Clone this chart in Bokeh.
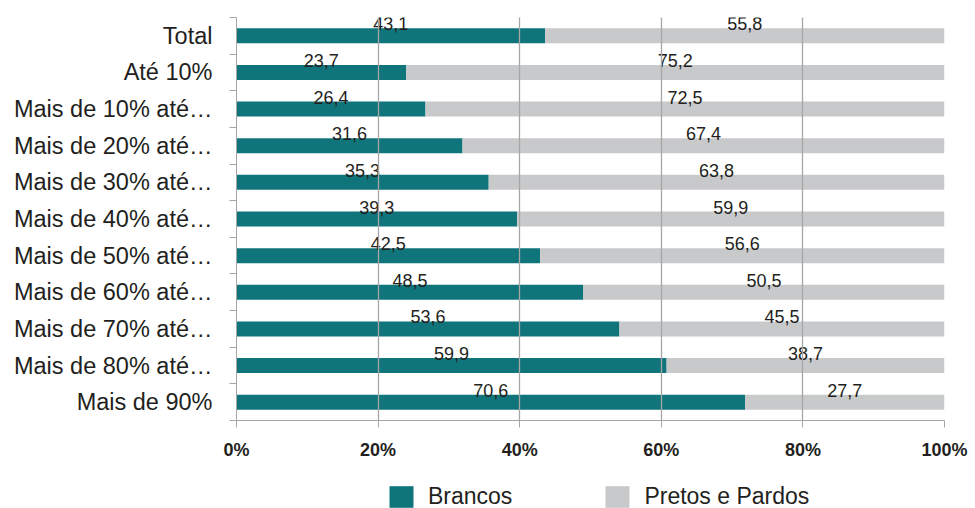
from bokeh.plotting import figure
from bokeh.layouts import column
from bokeh.models import (ColumnDataSource, FixedTicker, Legend, LegendItem, LinearAxis, Grid)
from bokeh.core.properties import value
from bokeh.embed import file_html
from bokeh.resources import INLINE

categories = ["Total", "Até 10%", "Mais de 10% até…", "Mais de 20% até…", "Mais de 30% até…",
              "Mais de 40% até…", "Mais de 50% até…", "Mais de 60% até…", "Mais de 70% até…",
              "Mais de 80% até…", "Mais de 90%"]
brancos = [43.1, 23.7, 26.4, 31.6, 35.3, 39.3, 42.5, 48.5, 53.6, 59.9, 70.6]
pretos = [55.8, 75.2, 72.5, 67.4, 63.8, 59.9, 56.6, 50.5, 45.5, 38.7, 27.7]
x_ticks = [0, 20, 40, 60, 80, 100]
x_tick_labels = ["0%", "20%", "40%", "60%", "80%", "100%"]
series_names = ["Brancos", "Pretos e Pardos"]

TEAL = "#10757a"
GRAY = "#c8c9cb"
TXT = "#231f20"
AXC = "#a6a6a6"
FONT = "Liberation Sans"
BAR_H = 0.41

n = len(categories)
ypos = [n - i - 0.5 for i in range(n)]
tot = [b + p for b, p in zip(brancos, pretos)]
b_pct = [b / t * 100 for b, t in zip(brancos, tot)]

src = ColumnDataSource(dict(
    y=ypos, b_end=b_pct, p_start=b_pct, p_end=[100.0] * n,
    b_mid=[v / 2 for v in b_pct], p_mid=[(v + 100) / 2 for v in b_pct],
    b_lab=[f"{v:.1f}".replace(".", ",") for v in brancos],
    p_lab=[f"{v:.1f}".replace(".", ",") for v in pretos],
    zero=[0.0] * n,
))

p = figure(width=975, height=470, x_range=(0, 100), y_range=(0, n),
           output_backend="svg", toolbar_location=None, x_axis_type=None, y_axis_type=None,
           min_border_left=236, min_border_right=31, min_border_top=17, min_border_bottom=50)
p.outline_line_color = None

p.hbar(y="y", left="zero", right="b_end", height=BAR_H, source=src, fill_color=TEAL, line_color=None)
p.hbar(y="y", left="p_start", right="p_end", height=BAR_H, source=src, fill_color=GRAY, line_color=None)

for col, lab in (("b_mid", "b_lab"), ("p_mid", "p_lab")):
    p.text(x=col, y="y", text=lab, source=src, text_align="center", text_baseline="alphabetic",
           y_offset=-12, text_font=value(FONT), text_font_size="18px", text_color=TXT)

xaxis = LinearAxis(ticker=FixedTicker(ticks=x_ticks),
                   major_label_overrides={t: l for t, l in zip(x_ticks, x_tick_labels)})
xaxis.axis_line_color = AXC
xaxis.major_tick_line_color = AXC
xaxis.major_tick_out = 7
xaxis.major_tick_in = 0
xaxis.minor_tick_line_color = None
xaxis.major_label_standoff = 12
xaxis.major_label_text_font = FONT
xaxis.major_label_text_font_size = "18px"
xaxis.major_label_text_font_style = "bold"
xaxis.major_label_text_color = TXT
p.add_layout(xaxis, "below")

yaxis = LinearAxis(ticker=FixedTicker(ticks=ypos, minor_ticks=list(range(n + 1))),
                   major_label_overrides={y: c for y, c in zip(ypos, categories)})
yaxis.axis_line_color = AXC
yaxis.major_tick_line_color = None
yaxis.minor_tick_line_color = AXC
yaxis.minor_tick_out = 7
yaxis.minor_tick_in = 0
yaxis.major_label_standoff = 17
yaxis.major_label_text_font = FONT
yaxis.major_label_text_font_size = "23.5px"
yaxis.major_label_text_color = TXT
p.add_layout(yaxis, "left")

grid = Grid(dimension=0, ticker=FixedTicker(ticks=x_ticks[1:]), grid_line_color=AXC, grid_line_width=1.3)
grid.level = "overlay"
p.add_layout(grid)

# legend strip (its frame is aligned with the main frame by the column layout)
lg = figure(width=975, height=38, x_range=(0, 1), y_range=(0, 1), output_backend="svg",
            toolbar_location=None, x_axis_type=None, y_axis_type=None,
            min_border_left=0, min_border_right=0, min_border_top=0, min_border_bottom=0)
lg.outline_line_color = None
lg.grid.visible = False
# legend-only swatches kept outside the visible range
dummy = ColumnDataSource(dict(l=[5], r=[6], t=[6], b=[5]))
r1 = lg.quad(left="l", right="r", top="t", bottom="b", source=dummy, fill_color=TEAL, line_color=None)
r2 = lg.quad(left="l", right="r", top="t", bottom="b", source=dummy, fill_color=GRAY, line_color=None)
legend = Legend(items=[LegendItem(label=series_names[0], renderers=[r1]),
                       LegendItem(label=series_names[1], renderers=[r2])],
                orientation="horizontal", location=(150, -2), border_line_color=None,
                background_fill_alpha=0, glyph_width=30, glyph_height=27, padding=0, margin=0,
                spacing=90, label_standoff=12, label_text_font=FONT, label_text_font_size="23px",
                label_text_color=TXT, label_height=27)
lg.add_layout(legend, "center")

open("out.html", "w").write(file_html(column(p, lg, spacing=0), INLINE))
